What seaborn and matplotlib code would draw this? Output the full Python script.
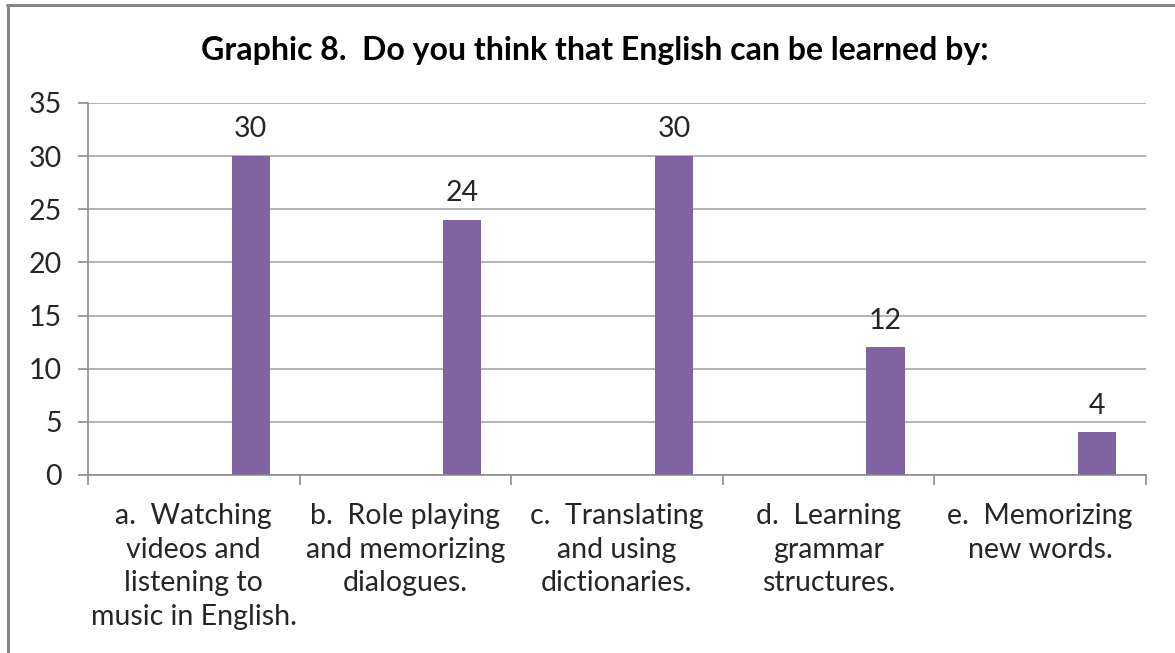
import matplotlib
matplotlib.use("Agg")
import matplotlib.pyplot as plt
from matplotlib.lines import Line2D
import seaborn as sns
import pandas as pd

# Survey answers: how students think English can be learned
categories = [
    "a.  Watching\nvideos and\nlistening to\nmusic in English.",
    "b.  Role playing\nand memorizing\ndialogues.",
    "c.  Translating\nand using\ndictionaries.",
    "d.  Learning\ngrammar\nstructures.",
    "e.  Memorizing\nnew words.",
]
counts = [30, 24, 30, 12, 4]
y_ticks = [0, 5, 10, 15, 20, 25, 30, 35]

title = "Graphic 8.  Do you think that English can be learned by:"

sns.set_theme(style="white")
plt.rcParams["font.family"] = ["Lato", "DejaVu Sans"]

BAR_COLOR = "#8064A2"
GRID_COLOR = "#A6A6A6"
AXIS_COLOR = "#8C8C8C"
TEXT_COLOR = "#262626"
FS = 20.5

df = pd.DataFrame({"category": categories, "count": counts})

fig = plt.figure(figsize=(11.75, 6.53), dpi=100)
ax = fig.add_axes([0.0749, 0.2726, 0.9004, 0.5697])

sns.barplot(data=df, x="category", y="count", color=BAR_COLOR,
            saturation=1, width=0.18, ax=ax)

# shift each bar to the right side of its category slot
for p in ax.patches:
    p.set_x(p.get_x() + 0.269)
    p.set_edgecolor("none")

ax.bar_label(ax.containers[0], labels=[str(v) for v in counts],
             padding=10, fontsize=FS, color=TEXT_COLOR)

ax.set_xlim(-0.5, len(categories) - 0.5)
ax.set_ylim(0, 35)
ax.set_yticks(y_ticks)
ax.set_yticklabels([str(t) for t in y_ticks], fontsize=FS, color=TEXT_COLOR)
ax.yaxis.grid(True, color=GRID_COLOR, linewidth=1.2)
ax.set_axisbelow(True)

ax.set_xticks(range(len(categories)))
ax.set_xticklabels(categories, fontsize=FS, color=TEXT_COLOR, linespacing=1.37)
ax.set_xticks([i - 0.5 for i in range(len(categories) + 1)], minor=True)
ax.tick_params(axis="x", which="major", length=0, pad=20)
ax.tick_params(axis="x", which="minor", length=7, width=1.2,
               color=AXIS_COLOR, direction="out", bottom=True)
ax.tick_params(axis="y", length=7, width=1.2, color=AXIS_COLOR,
               direction="out", left=True, pad=12)

ax.set_xlabel("")
ax.set_ylabel("")
for side in ("top", "right"):
    ax.spines[side].set_visible(False)
for side in ("left", "bottom"):
    ax.spines[side].set_color(AXIS_COLOR)
    ax.spines[side].set_linewidth(1.2)

fig.text(0.506, 0.923, title, ha="center", va="center",
         fontsize=23, fontweight="bold", color="#000000")

# chart frame
fig.add_artist(Line2D([0.006, 1.0], [0.9925, 0.9925], transform=fig.transFigure,
                      color="#868686", linewidth=2.2))
fig.add_artist(Line2D([0.0065, 0.0065], [0.0, 0.9925], transform=fig.transFigure,
                      color="#868686", linewidth=2.2))

fig.savefig("out.png", dpi=100, facecolor="white")
